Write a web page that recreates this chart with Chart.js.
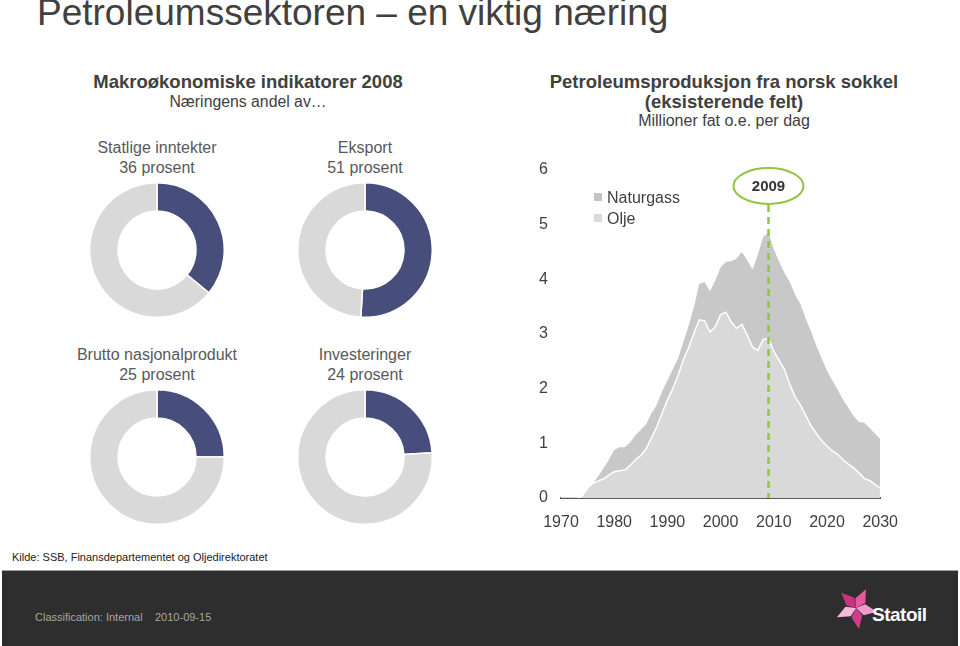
<!DOCTYPE html>
<html lang="no">
<head>
<meta charset="UTF-8">
<title>Petroleumssektoren – en viktig næring</title>
<script src="https://cdn.jsdelivr.net/npm/chart.js@4.4.0/dist/chart.umd.min.js"></script>
<style>
  body {
    margin: 0;
    width: 960px;
    height: 646px;
    position: relative;
    overflow: hidden;
    background: #fff;
    font-family: 'Liberation Sans', Arial, sans-serif;
    color: #404040;
  }
  .txt { position: absolute; white-space: nowrap; }
  .ctr { transform: translateX(-50%); text-align: center; }
  h1 {
    position: absolute; left: 37px; top: -8px; margin: 0;
    font-weight: normal; font-size: 37px; color: #404040; white-space: nowrap;
  }
  .head { font-size: 18.5px; line-height: 20px; color: #404040; font-weight: bold; }
  .sub { font-size: 15.8px; line-height: 20px; color: #404040; }
  .lbl { font-size: 16px; line-height: 20px; color: #595959; }
  .donut { position: absolute; }
  #prodChart { position: absolute; left: 520px; top: 152px; }
  .legend { position: absolute; left: 594px; font-size: 16px; color: #404040; line-height: 20px; }
  .legend i { display: inline-block; width: 8px; height: 8px; margin-right: 5px; vertical-align: 2px; }
  #footer { position: absolute; left: 2px; top: 570px; width: 956px; height: 76px; background: #2e2e2e; border-top: 1px solid #9a9a9a; }
  .foot { font-size: 11px; color: #a6a6a6; }
</style>
</head>
<body>

<h1>Petroleumssektoren – en viktig næring</h1>

<div class="txt ctr head" style="left:248px; top:72px;">Makroøkonomiske indikatorer 2008</div>
<div class="txt ctr sub" style="left:248px; top:92px;">Næringens andel av…</div>
<div class="txt ctr head" style="left:724px; top:72px;">Petroleumsproduksjon fra norsk sokkel<br>(eksisterende felt)</div>
<div class="txt ctr lbl" style="left:724px; top:111px; color:#404040;">Millioner fat o.e. per dag</div>

<div class="txt ctr lbl" style="left:157px; top:138px;">Statlige inntekter<br>36 prosent</div>
<div class="txt ctr lbl" style="left:365px; top:138px;">Eksport<br>51 prosent</div>
<div class="txt ctr lbl" style="left:157px; top:345px;">Brutto nasjonalprodukt<br>25 prosent</div>
<div class="txt ctr lbl" style="left:365px; top:345px;">Investeringer<br>24 prosent</div>

<canvas class="donut" id="d0" width="136" height="136" style="left:89px; top:182px;"></canvas>
<canvas class="donut" id="d1" width="136" height="136" style="left:297px; top:182px;"></canvas>
<canvas class="donut" id="d2" width="136" height="136" style="left:89px; top:389px;"></canvas>
<canvas class="donut" id="d3" width="136" height="136" style="left:297px; top:389px;"></canvas>

<canvas id="prodChart" width="385" height="390"></canvas>
<div class="legend" style="top:188px;"><i style="background:#c4c4c4"></i>Naturgass</div>
<div class="legend" style="top:209px;"><i style="background:#d9d9d9"></i>Olje</div>

<div class="txt" style="left:12px; top:551px; font-size:11px; color:#222;">Kilde: SSB, Finansdepartementet og Oljedirektoratet</div>

<div id="footer"></div>
<div class="txt foot" style="left:35px; top:611px;">Classification: Internal</div>
<div class="txt foot" style="left:155px; top:611px;">2010-09-15</div>

<svg class="txt" style="left:834px; top:586px;" width="44" height="44" viewBox="-22 -22 44 44">
  <g id="petals"></g>
</svg>
<div class="txt" style="left:872px; top:604px; font-size:19px; font-weight:bold; color:#fff; letter-spacing:-0.5px;">Statoil</div>

<script>
// donut shares (prosent)
const donutNames = ['Statlige inntekter', 'Eksport', 'Brutto nasjonalprodukt', 'Investeringer'];
const donutShares = [36, 51, 25, 24];

// production, millioner fat o.e. per dag
const years = [];
for (let y = 1970; y <= 2030; y++) years.push(y);
const xTickYears = [1970, 1980, 1990, 2000, 2010, 2020, 2030];
const yTicks = [0, 1, 2, 3, 4, 5, 6];

const olje = [
  0, 0, 0, 0, 0.04, 0.18, 0.27, 0.31, 0.35, 0.42,
  0.48, 0.50, 0.51, 0.60, 0.70, 0.78, 0.90, 1.10, 1.30, 1.55,
  1.79, 2.00, 2.24, 2.53, 2.75, 3.02, 3.26, 3.24, 3.04, 3.13,
  3.35, 3.40, 3.22, 3.10, 3.18, 2.98, 2.76, 2.70, 2.90, 2.92,
  2.68, 2.52, 2.35, 2.08, 1.85, 1.70, 1.51, 1.32, 1.18, 1.05,
  0.95, 0.86, 0.80, 0.70, 0.62, 0.55, 0.46, 0.36, 0.32, 0.25,
  0.18
];
const naturgass = [
  0, 0, 0, 0, 0, 0, 0, 0.09, 0.20, 0.28,
  0.40, 0.43, 0.42, 0.42, 0.45, 0.47, 0.45, 0.45, 0.40, 0.40,
  0.36, 0.35, 0.31, 0.32, 0.40, 0.48, 0.66, 0.71, 0.74, 0.85,
  0.87, 0.92, 1.11, 1.28, 1.32, 1.37, 1.42, 1.75, 1.88, 1.93,
  1.87, 1.80, 1.77, 1.87, 1.87, 1.85, 1.77, 1.73, 1.60, 1.50,
  1.38, 1.29, 1.18, 1.10, 1.03, 0.95, 0.93, 1.02, 0.96, 0.93,
  0.90
];
const markYear = 2009;

// logo petals
(function () {
  const g = document.getElementById('petals');
  const shades = ['#e8589f', '#f29ac8', '#d23c8a', '#f7b9da', '#c93382'];
  for (let i = 0; i < 5; i++) {
    const p = document.createElementNS('http://www.w3.org/2000/svg', 'path');
    p.setAttribute('d', 'M0 0 L7 -8 L3 -21 L-4 -9 Z');
    p.setAttribute('fill', shades[i]);
    p.setAttribute('transform', 'rotate(' + (i * 72 + 20) + ')');
    g.appendChild(p);
  }
})();

donutShares.forEach(function (v, i) {
  new Chart(document.getElementById('d' + i), {
    type: 'doughnut',
    data: {
      labels: [donutNames[i], 'Øvrig'],
      datasets: [{
        data: [v, 100 - v],
        backgroundColor: ['#474e7b', '#d9d9d9'],
        borderColor: '#ffffff',
        borderWidth: 1.5
      }]
    },
    options: {
      responsive: false,
      animation: false,
      cutout: '58%',
      plugins: { legend: { display: false }, tooltip: { enabled: false } }
    }
  });
});

const markerPlugin = {
  id: 'marker',
  afterDraw(chart) {
    const ctx = chart.ctx;
    const x = chart.scales.x.getPixelForValue(years.indexOf(markYear));
    const yBottom = chart.scales.y.getPixelForValue(0);
    const cy = 34;
    ctx.save();
    ctx.strokeStyle = '#8dc63f';
    ctx.lineWidth = 2.5;
    ctx.setLineDash([7, 5]);
    ctx.beginPath();
    ctx.moveTo(x, cy + 19);
    ctx.lineTo(x, yBottom);
    ctx.stroke();
    ctx.setLineDash([]);
    ctx.lineWidth = 2;
    ctx.fillStyle = '#fff';
    ctx.beginPath();
    ctx.ellipse(x, cy, 35, 18, 0, 0, Math.PI * 2);
    ctx.fill();
    ctx.stroke();
    ctx.fillStyle = '#333';
    ctx.font = 'bold 15px "Liberation Sans", Arial, sans-serif';
    ctx.textAlign = 'center';
    ctx.textBaseline = 'middle';
    ctx.fillText(String(markYear), x, cy + 1);
    ctx.restore();
  }
};

new Chart(document.getElementById('prodChart'), {
  type: 'line',
  data: {
    labels: years,
    datasets: [
      {
        label: 'Olje',
        data: olje,
        backgroundColor: '#d9d9d9',
        borderColor: '#ffffff',
        borderWidth: 1.5,
        pointRadius: 0,
        fill: 'origin'
      },
      {
        label: 'Naturgass',
        data: naturgass,
        backgroundColor: '#c8c8c8',
        borderColor: '#c8c8c8',
        borderWidth: 0,
        pointRadius: 0,
        fill: '-1'
      }
    ]
  },
  options: {
    responsive: false,
    animation: false,
    layout: { padding: { top: 18, right: 23, left: 0, bottom: 0 } },
    plugins: { legend: { display: false }, tooltip: { enabled: false } },
    scales: {
      x: {
        offset: false,
        grid: { display: false },
        border: { color: '#595959', width: 2 },
        afterFit(scale) { scale.height = 44; },
        ticks: {
          autoSkip: false,
          maxRotation: 0,
          padding: 7,
          color: '#404040',
          font: { size: 16, family: 'Liberation Sans' },
          callback(val, idx) {
            return xTickYears.includes(years[idx]) ? String(years[idx]) : null;
          }
        }
      },
      y: {
        stacked: true,
        min: yTicks[0],
        max: yTicks[yTicks.length - 1],
        grid: { display: false },
        border: { display: false },
        afterFit(scale) { scale.width = 41; },
        ticks: {
          stepSize: 1,
          padding: 5,
          color: '#404040',
          font: { size: 16, family: 'Liberation Sans' }
        }
      }
    }
  },
  plugins: [markerPlugin]
});
</script>
</body>
</html>
